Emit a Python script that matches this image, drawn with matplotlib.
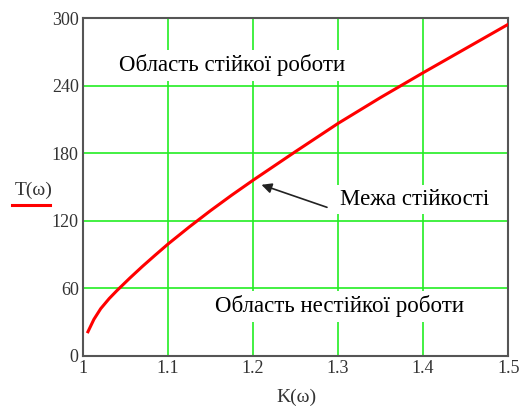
import matplotlib.pyplot as plt

plt.rcParams['font.family'] = ['Liberation Serif', 'DejaVu Serif']

# values
k_vals = [1.006, 1.013, 1.021, 1.031, 1.04, 1.055, 1.07, 1.085, 1.1, 1.125, 1.15, 1.175, 1.2,
          1.25, 1.3, 1.35, 1.4, 1.45, 1.5]
t_vals = [21.5, 32.5, 42, 51, 58, 69, 79.5, 89.5, 99.3, 114.5, 129, 142.8, 156,
          181.5, 206.5, 229.5, 251.5, 273, 294.5]
x_ticks = [1, 1.1, 1.2, 1.3, 1.4, 1.5]
x_tick_labels = ['1', '1.1', '1.2', '1.3', '1.4', '1.5']
y_ticks = [0, 60, 120, 180, 240, 300]

fig = plt.figure(figsize=(5.31, 4.12), dpi=100)
ax = fig.add_axes([0.156, 0.136, 0.801, 0.820])

ax.plot(k_vals, t_vals, color='#ff0000', lw=2.2, zorder=3, solid_joinstyle='round')
ax.set_xlim(1, 1.5)
ax.set_ylim(0, 300)
ax.set_xticks(x_ticks)
ax.set_xticklabels(x_tick_labels)
ax.set_yticks(y_ticks)
ax.grid(True, color='#22ee22', lw=1.2, zorder=1)
ax.tick_params(length=0, labelsize=13, labelcolor='#333333', pad=3)
for s in ax.spines.values():
    s.set_color('#555555')
    s.set_linewidth(1.5)

box = dict(facecolor='white', edgecolor='none', pad=3)
ax.text(1.043, 258, 'Область стійкої роботи', fontsize=16.5, bbox=box, zorder=4, va='center')
ax.text(1.302, 139, 'Межа стійкості', fontsize=16.5, bbox=box, zorder=4, va='center')
ax.text(1.155, 44, 'Область нестійкої роботи', fontsize=16.5, bbox=box, zorder=4, va='center')
ax.annotate('', xy=(1.21, 152), xytext=(1.287, 132),
            arrowprops=dict(arrowstyle='-|>', color='#222222', lw=1.2, mutation_scale=15,
                            shrinkA=0, shrinkB=0), zorder=5)

fig.text(0.064, 0.538, 'T(ω)', fontsize=14, color='#333333', ha='center', va='center')
fig.add_artist(plt.Line2D([0.022, 0.095], [0.503, 0.503], color='#ff0000', lw=2.2))
fig.text(0.559, 0.036, 'K(ω)', fontsize=14, color='#333333', ha='center', va='center')

fig.savefig('out.png', dpi=100)
